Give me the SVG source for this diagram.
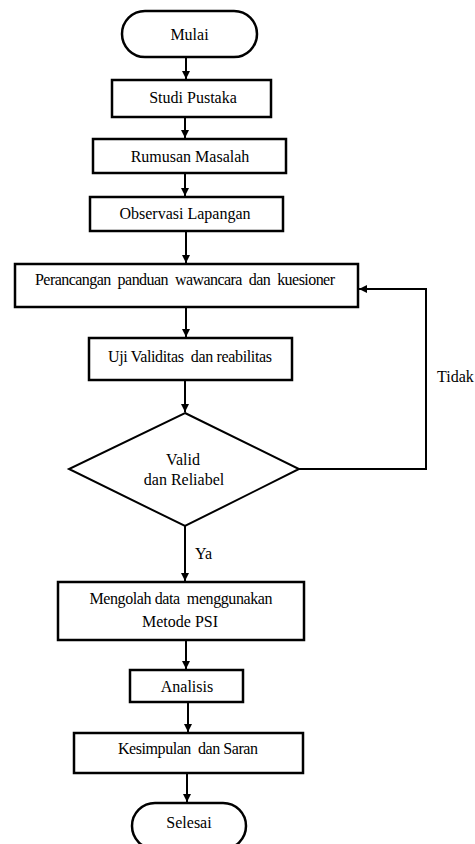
<svg xmlns="http://www.w3.org/2000/svg" width="475" height="844" viewBox="0 0 475 844">
<defs>
<marker id="ah" viewBox="0 0 10 10" refX="10" refY="5" markerWidth="4" markerHeight="4" orient="auto" markerUnits="strokeWidth">
<path d="M0,0 L10,5 L0,10 z" fill="#000"/>
</marker>
<style>
.box{fill:#fff;stroke:#000;stroke-width:2.5}
.dia{fill:#fff;stroke:#000;stroke-width:2}
.t{font-family:"Liberation Serif","Times New Roman","DejaVu Serif",serif;font-size:16px;fill:#000;text-anchor:middle;white-space:pre}
.tl{font-family:"Liberation Serif","Times New Roman","DejaVu Serif",serif;font-size:16px;fill:#000}
.c{fill:none;stroke:#000;stroke-width:2;marker-end:url(#ah)}
</style>
</defs>
<rect width="475" height="844" fill="#fff"/>
<g id="connectors">
<line class="c" x1="186" y1="57" x2="186" y2="79"/>
<line class="c" x1="185" y1="117" x2="185" y2="138"/>
<line class="c" x1="185" y1="173" x2="185" y2="196"/>
<line class="c" x1="186" y1="231" x2="186" y2="263"/>
<line class="c" x1="186" y1="307" x2="186" y2="337"/>
<line class="c" x1="185" y1="380" x2="185" y2="412"/>
<line class="c" x1="185" y1="526" x2="185" y2="581"/>
<line class="c" x1="186" y1="640" x2="186" y2="669"/>
<line class="c" x1="188" y1="702" x2="188" y2="732"/>
<line class="c" x1="187" y1="773" x2="187" y2="802"/>
<polyline class="c" points="299,469 426,469 426,289 359,289"/>
</g>
<g id="mulai">
<rect class="box" x="122" y="11" width="135" height="46" rx="23" ry="23"/>
<text class="t" x="189.5" y="40">Mulai</text>
</g>
<g id="studi">
<rect class="box" x="112" y="80" width="159" height="37"/>
<text class="t" x="193" y="103">Studi Pustaka</text>
</g>
<g id="rumusan">
<rect class="box" x="93" y="139" width="193" height="34"/>
<text class="t" x="190" y="162">Rumusan Masalah</text>
</g>
<g id="observasi">
<rect class="box" x="90" y="197" width="193" height="34"/>
<text class="t" x="185" y="219">Observasi Lapangan</text>
</g>
<g id="perancangan">
<rect class="box" x="15" y="264" width="343" height="43"/>
<text class="t" x="185" y="285" xml:space="preserve" textLength="300" lengthAdjust="spacing">Perancangan  panduan  wawancara  dan  kuesioner</text>
</g>
<g id="uji">
<rect class="box" x="89" y="338" width="203" height="42"/>
<text class="t" x="190" y="362" xml:space="preserve" textLength="164" lengthAdjust="spacing">Uji Validitas  dan reabilitas</text>
</g>
<g id="valid">
<polygon class="dia" points="185,413 299,469 185,526 69,469"/>
<text class="t" x="183" y="465">Valid</text>
<text class="t" x="184" y="485">dan Reliabel</text>
</g>
<text class="tl" x="437" y="382">Tidak</text>
<text class="tl" x="195" y="559">Ya</text>
<g id="mengolah">
<rect class="box" x="58" y="582" width="246" height="58"/>
<text class="t" x="181" y="604" xml:space="preserve" textLength="183" lengthAdjust="spacing">Mengolah data  menggunakan</text>
<text class="t" x="180" y="627">Metode PSI</text>
</g>
<g id="analisis">
<rect class="box" x="130" y="670" width="113" height="32"/>
<text class="t" x="187" y="692">Analisis</text>
</g>
<g id="kesimpulan">
<rect class="box" x="74" y="733" width="229" height="40"/>
<text class="t" x="188" y="754" xml:space="preserve" textLength="140" lengthAdjust="spacing">Kesimpulan  dan Saran</text>
</g>
<g id="selesai">
<rect class="box" x="132" y="803" width="114" height="46" rx="23" ry="23"/>
<text class="t" x="189" y="828">Selesai</text>
</g>
</svg>
